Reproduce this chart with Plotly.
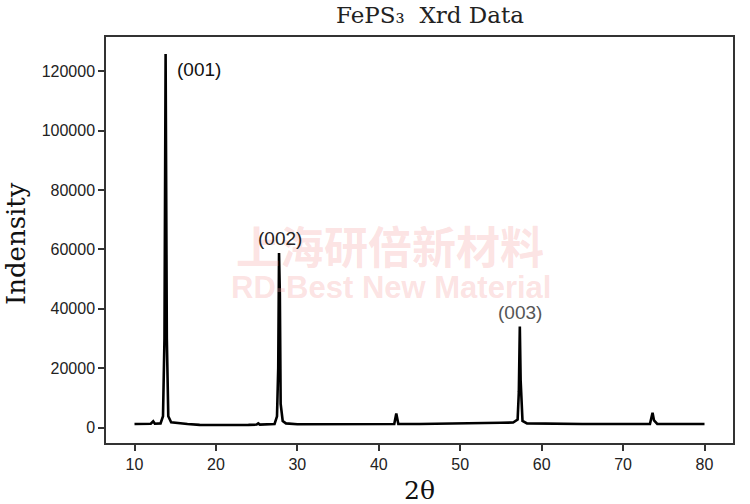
import plotly.graph_objects as go

# XRD pattern (2θ in degrees, intensity in counts)
two_theta = [10.0, 11.0, 12.0, 12.3, 12.5, 13.2, 13.5, 13.68, 13.82, 13.97, 14.15, 14.5,
             15.5, 16.5, 18.0, 20.0, 22.0, 24.0, 25.0, 25.2, 25.4, 27.2, 27.5, 27.65,
             27.75, 27.85, 27.95, 28.2, 28.6, 30.0, 35.0, 40.0, 41.9, 42.15, 42.4, 45.0,
             50.0, 53.5, 55.0, 56.5, 57.05, 57.2, 57.32, 57.42, 57.5, 57.65, 58.2, 60.0,
             65.0, 70.0, 73.3, 73.62, 73.8, 74.2, 77.0, 80.0]
intensity = [1200, 1200, 1300, 2100, 1300, 1400, 3800, 30000, 125800, 30000, 3800, 1800,
             1400, 1200, 900, 800, 850, 900, 1000, 1400, 1000, 1200, 3800, 20000,
             58800, 45000, 8000, 2200, 1400, 1100, 1100, 1200, 1200, 4700, 1200, 1200,
             1300, 1500, 1600, 1700, 2700, 12000, 34000, 16000, 9000, 2200, 1400, 1300,
             1200, 1200, 1200, 5000, 2400, 1200, 1200, 1200]

peak_labels = ["(001)", "(002)", "(003)"]
peak_label_x = [15.0, 27.9, 57.3]
peak_label_y = [120700, 63500, 38700]
label_colors = ["#111111", "#222222", "#555555"]

x_ticks = [10, 20, 30, 40, 50, 60, 70, 80]
y_ticks = [0, 20000, 40000, 60000, 80000, 100000, 120000]

serif = "DejaVu Serif"
sans = "Liberation Sans"

fig = go.Figure()
fig.add_trace(go.Scatter(x=two_theta, y=intensity, mode="lines",
                         line=dict(color="black", width=2.6), showlegend=False,
                         hoverinfo="skip"))

# watermark
fig.add_annotation(xref="paper", yref="paper", x=0.453, y=0.488, text="<b>上海研倍新材料</b>",
                   showarrow=False, yanchor="middle",
                   font=dict(family="Noto Sans CJK SC", size=44, color="rgba(245,160,160,0.3)"))
fig.add_annotation(xref="paper", yref="paper", x=0.455, y=0.382, text="<b>RD-Best New Material</b>",
                   showarrow=False, yanchor="middle",
                   font=dict(family=sans, size=31, color="rgba(245,160,160,0.3)"))

# peak labels
anchors = ["left", "center", "center"]
for lab, px, py, col, anc in zip(peak_labels, peak_label_x, peak_label_y, label_colors, anchors):
    fig.add_annotation(x=px, y=py, text=lab, showarrow=False, xanchor=anc,
                       yanchor="middle", font=dict(family=sans, size=19, color=col))

# title and axis titles
fig.add_annotation(xref="paper", yref="paper", x=0.517, y=1.0, yshift=22, text="FePS₃  Xrd Data",
                   showarrow=False, xanchor="center", yanchor="middle",
                   font=dict(family=serif, size=23, color="#222222"))
fig.add_annotation(xref="paper", yref="paper", x=0.5, y=-0.116, text="2θ",
                   showarrow=False, xanchor="center", yanchor="middle",
                   font=dict(family=serif, size=25, color="#111111"))
fig.add_annotation(xref="paper", yref="paper", x=-0.1435, y=0.49, text="Indensity",
                   showarrow=False, xanchor="center", yanchor="middle", textangle=-90,
                   font=dict(family=serif, size=26, color="#111111"))

fig.update_layout(
    width=750, height=504,
    margin=dict(l=106, r=17, t=37, b=61),
    paper_bgcolor="white", plot_bgcolor="white",
    xaxis=dict(range=[6.5, 83.5], tickvals=x_ticks, ticks="outside", ticklen=6, tickwidth=1.5,
               tickcolor="#333333", showline=True, linecolor="#333333", linewidth=1.5, mirror=True,
               showgrid=False, zeroline=False, automargin=False,
               tickfont=dict(family=sans, size=16, color="#222222")),
    yaxis=dict(range=[-5200, 131500], tickvals=y_ticks, ticks="outside", ticklen=6, tickwidth=1.5,
               tickcolor="#333333", showline=True, linecolor="#333333", linewidth=1.5, mirror=True,
               showgrid=False, zeroline=False, tickformat="d", automargin=False,
               tickfont=dict(family=sans, size=16, color="#222222")),
)

fig.write_html("out.html", config={"displayModeBar": False},
               post_script="document.body.style.margin='0';document.body.style.overflow='hidden';")
